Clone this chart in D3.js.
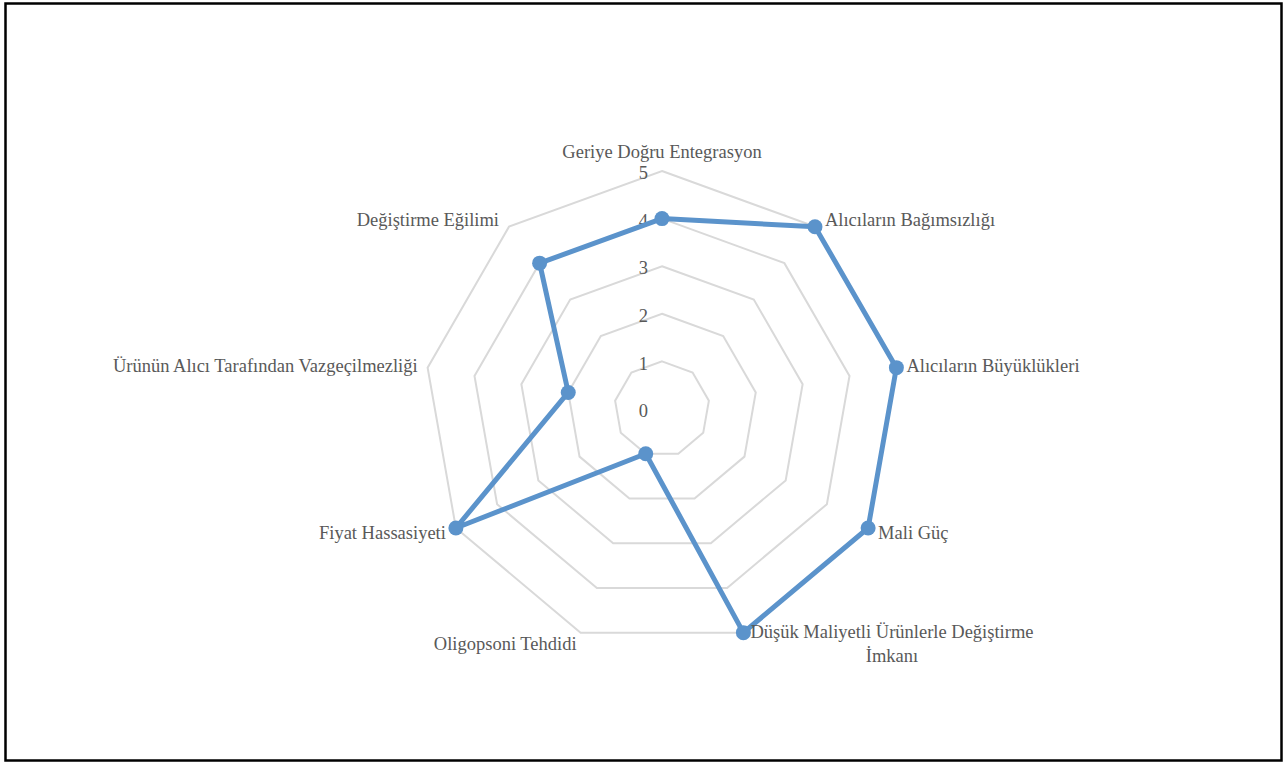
<!DOCTYPE html>
<html>
<head>
<meta charset="utf-8">
<script src="https://cdn.jsdelivr.net/npm/d3@7"></script>
<style>
  body { margin: 0; background: #fff; }
  svg text { font-family: "Liberation Serif", "Times New Roman", serif; fill: #595959; }
</style>
</head>
<body>
<div id="chart"></div>
<script>
// axis names, clockwise from the top
var categories = [
  "Geriye Doğru Entegrasyon",
  "Alıcıların Bağımsızlığı",
  "Alıcıların Büyüklükleri",
  "Mali Güç",
  "Düşük Maliyetli Ürünlerle Değiştirme İmkanı",
  "Oligopsoni Tehdidi",
  "Fiyat Hassasiyeti",
  "Ürünün Alıcı Tarafından Vazgeçilmezliği",
  "Değiştirme Eğilimi"
];
var values = [4, 5, 5, 5, 5, 1, 5, 2, 4];
var ticks = [0, 1, 2, 3, 4, 5];

var width = 1286, height = 764;
var cx = 662, cy = 409, R = 238;
var fs = 18.5;

var svg = d3.select("#chart").append("svg")
    .attr("width", width)
    .attr("height", height);

// chart border
svg.append("rect")
    .attr("x", 5.5).attr("y", 3.5)
    .attr("width", 1276).attr("height", 757)
    .attr("fill", "none")
    .attr("stroke", "#000")
    .attr("stroke-width", 2.5);

var r = d3.scaleLinear().domain([0, 5]).range([0, R]);
var angle = d3.scaleLinear().domain([0, categories.length]).range([0, 2 * Math.PI]);

function pt(i, v) {
  var a = angle(i);
  return [cx + r(v) * Math.sin(a), cy - r(v) * Math.cos(a)];
}

var g = svg.append("g");

// grid rings
ticks.filter(function(t) { return t > 0; }).forEach(function(t) {
  g.append("path")
      .attr("d", d3.line()(categories.map(function(c, i) { return pt(i, t); })) + "Z")
      .attr("fill", "none")
      .attr("stroke", "#d9d9d9")
      .attr("stroke-width", 2);
});

// tick labels
g.selectAll(".tick").data(ticks).join("text")
    .attr("class", "tick")
    .attr("x", cx - 14)
    .attr("y", function(d) { return cy - r(d) + 4; })
    .attr("text-anchor", "end")
    .attr("dominant-baseline", "middle")
    .attr("font-size", fs)
    .text(function(d) { return d; });

// data line
var line = d3.line()
    .x(function(d, i) { return pt(i, d)[0]; })
    .y(function(d, i) { return pt(i, d)[1]; })
    .curve(d3.curveLinearClosed);

g.append("path")
    .datum(values)
    .attr("d", line)
    .attr("fill", "none")
    .attr("stroke", "#5b93cb")
    .attr("stroke-width", 5)
    .attr("stroke-linejoin", "round");

g.selectAll(".dot").data(values).join("circle")
    .attr("class", "dot")
    .attr("cx", function(d, i) { return pt(i, d)[0]; })
    .attr("cy", function(d, i) { return pt(i, d)[1]; })
    .attr("r", 7.5)
    .attr("fill", "#5b93cb");

// category labels
categories.forEach(function(c, i) {
  var a = angle(i);
  var s = Math.sin(a), co = Math.cos(a);
  var p = pt(i, 5);
  var x = p[0], y = p[1] + 2;
  var anchor;
  if (Math.abs(s) < 0.1) { anchor = "middle"; y -= 19; }
  else if (Math.abs(s) < 0.5) { anchor = s > 0 ? "start" : "end"; x += s > 0 ? 7 : -4; y -= co * 12; }
  else { anchor = s > 0 ? "start" : "end"; x += s > 0 ? 10 : -10; y -= co * 9; }

  if (i === 4) {
    // wrapped label, two centred lines
    var lines = ["Düşük Maliyetli Ürünlerle Değiştirme", "İmkanı"];
    var t = g.append("text").attr("font-size", fs).text(lines[0]);
    var w = t.node().getComputedTextLength();
    t.remove();
    lines.forEach(function(l, j) {
      g.append("text")
          .attr("x", x + w / 2)
          .attr("y", y + (j - 0.5) * 24)
          .attr("text-anchor", "middle")
          .attr("dominant-baseline", "middle")
          .attr("font-size", fs)
          .text(l);
    });
  } else {
    g.append("text")
        .attr("x", x).attr("y", y)
        .attr("text-anchor", anchor)
        .attr("dominant-baseline", "middle")
        .attr("font-size", fs)
        .text(c);
  }
});
</script>
</body>
</html>
